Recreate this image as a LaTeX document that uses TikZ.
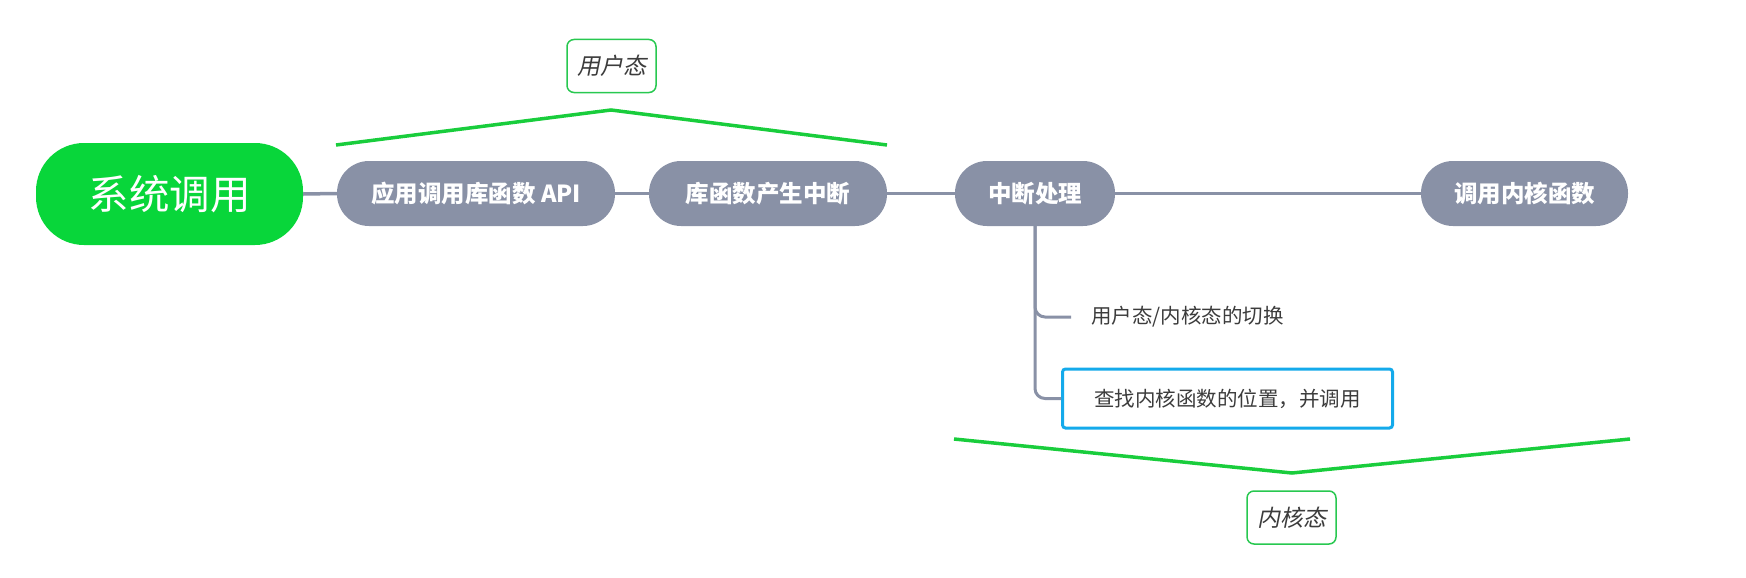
\documentclass[tikz,border=0pt]{standalone}
\usepackage{fontspec}
\setmainfont{Noto Sans CJK SC}
\newfontfamily\cjkit[FakeSlant=0.2]{Noto Sans CJK SC}
\definecolor{mgreen}{RGB}{8,214,58}
\definecolor{bgreen}{RGB}{25,205,60}
\definecolor{lgreen}{RGB}{40,200,80}
\definecolor{mgray}{RGB}{137,145,166}
\definecolor{txtgray}{RGB}{60,60,60}
\definecolor{mblue}{RGB}{20,170,235}
\begin{document}
\begin{tikzpicture}[x=1pt,y=-1pt,
  rootnode/.style={fill=mgreen, rounded corners=48pt, minimum width=267pt, minimum height=102pt, inner sep=0pt, text=white, font=\fontsize{40.5}{48}\selectfont},
  topic/.style={fill=mgray, rounded corners=32pt, minimum height=65pt, inner sep=0pt, text=white, font=\bfseries\fontsize{23.5}{28}\selectfont},
  conn/.style={draw=mgray, line width=3.5pt},
  branch/.style={draw=mgray, line width=3pt, rounded corners=10pt},
  sub/.style={inner sep=0pt, inner xsep=20pt, text=txtgray, font=\fontsize{20.5}{24}\selectfont},
  selbox/.style={draw=mblue, line width=3pt, rounded corners=3pt, fill=white, minimum width=330pt, minimum height=59pt, inner sep=0pt, text=txtgray, font=\fontsize{20.5}{25}\selectfont},
  brace/.style={draw=bgreen, line width=3.5pt},
  state/.style={draw=lgreen, line width=1.5pt, rounded corners=7pt, fill=white, minimum width=89pt, minimum height=53pt, inner sep=0pt, text=txtgray, font=\cjkit\fontsize{23}{28}\selectfont}
]
\useasboundingbox (0,0) rectangle (1746,578);

\node[rootnode] (sys) at (169.5,194) {系统调用};
\node[topic, minimum width=278pt] (n1) at (476,193.5) {应用调用库函数 API};
\node[topic, minimum width=238pt] (n2) at (768,193.5) {库函数产生中断};
\node[topic, minimum width=160pt] (n3) at (1035,193.5) {中断处理};
\node[topic, minimum width=207pt] (n4) at (1524.5,193.5) {调用内核函数};

\draw[conn] (sys.east) -- (n1.west);
\draw[conn] (n1.east) -- (n2.west);
\draw[conn] (n2.east) -- (n3.west);
\draw[conn] (n3.east) -- (n4.west);

\node[sub, anchor=west] (lab1) at (1071,317) {用户态/内核态的切换};
\node[selbox] (box) at (1227.5,398.5) {查找内核函数的位置，并调用};

\draw[branch] (n3.south) |- (lab1.west);
\draw[branch] (n3.south) |- (box.west);

\coordinate (ua) at (336,145);
\coordinate (ub) at (611,110);
\coordinate (uc) at (887,145);
\draw[brace] (ua) -- (ub) -- (uc);
\node[state] (user) at (611.5,66) {用户态};

\coordinate (ka) at (954,439);
\coordinate (kb) at (1292,473);
\coordinate (kc) at (1630,439);
\draw[brace] (ka) -- (kb) -- (kc);
\node[state] (kern) at (1291.5,517.5) {内核态};
\end{tikzpicture}
\end{document}
